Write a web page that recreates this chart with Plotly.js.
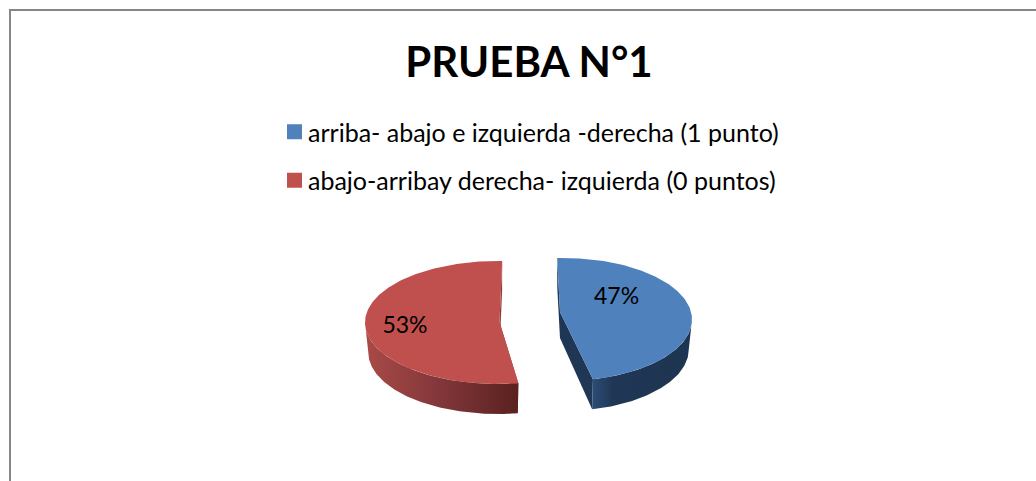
<!DOCTYPE html>
<html><head><meta charset="utf-8">
<script src="https://cdn.plot.ly/plotly-3.0.1.min.js"></script>
<style>html,body{margin:0;padding:0;background:#fff}#chart{width:1036px;height:481px}</style>
</head><body><div id="chart"></div>
<script>
const categories = ['arriba- abajo e izquierda -derecha (1 punto)', 'abajo-arribay derecha- izquierda (0 puntos)'];
const values = [47, 53];
const topColors = ['#4f81bd', '#c0504d'];
const wallScales = [
  [[0, '#2c4d75'], [0.22, '#1f3654'], [1, '#1e3552']],
  [[0, '#a94a47'], [0.5, '#81363a'], [1, '#5a211f']]
];
const cutColors = ['#1f3654', '#8c3b39'];
const chartTitle = 'PRUEBA N°1';

// Drawing geometry of the flattened, exploded pie (in axis units = px)
const centers = [[563, 319.5], [497.8, 322.5]];
const apexes = [[560, 312], [499.5, 322]];
const apexDepth = [26, 30];
const startAngles = [-2.6, 171.1];
const labelAt = [[616.6, 298], [405, 327.5]];
const RX = [129, 132.8], RY = 61.5, DEPTH = 30, WALL_SCALE = 0.975;

const total = values.reduce((a, b) => a + b, 0);
const sweep = values.map(v => v / total * 360);
const rad = d => d * Math.PI / 180;
function arc(i, a0, a1, dy, s) {
  const xs = [], ys = [], n = Math.max(2, Math.ceil(Math.abs(a1 - a0)));
  for (let k = 0; k <= n; k++) {
    const t = rad(a0 + (a1 - a0) * k / n);
    xs.push(centers[i][0] + RX[i] * s * Math.sin(t));
    ys.push(centers[i][1] + dy - RY * Math.cos(t));
  }
  return [xs, ys];
}
const traces = [];
const poly = (xs, ys, color, scale) => {
  const t = {x: xs.concat(xs[0]), y: ys.concat(ys[0]), mode: 'lines', fill: 'toself',
    line: {width: 0, color: color}, fillcolor: color, showlegend: false, hoverinfo: 'skip', type: 'scatter'};
  if (scale) t.fillgradient = {type: 'horizontal', colorscale: scale};
  traces.push(t);
};
values.forEach((v, i) => {
  const a0 = startAngles[i], a1 = a0 + sweep[i], c = apexes[i], d = apexDepth[i];
  const pt = (a, dy, s) => { const r = arc(i, a, a, dy, s); return [r[0][0], r[1][0]]; };
  const face = a => {
    const p = pt(a, 0, 1), q = pt(a, DEPTH, WALL_SCALE);
    poly([c[0], p[0], q[0], c[0]], [c[1], p[1], q[1], c[1] + d], cutColors[i]);
  };
  face(a0); face(a1);
  const w0 = Math.max(a0, 90), w1 = Math.min(a1, 270);
  const up = arc(i, w0, w1, 0, 1), lo = arc(i, w1, w0, DEPTH, WALL_SCALE);
  poly(up[0].concat(lo[0]), up[1].concat(lo[1]), cutColors[i], wallScales[i]);
  const tp = arc(i, a0, a1, 0, 1);
  poly([c[0]].concat(tp[0]), [c[1]].concat(tp[1]), topColors[i]);
});
traces.push({type: 'scatter', mode: 'text', x: labelAt.map(p => p[0]), y: labelAt.map(p => p[1]),
  text: values.map(v => v + '%'), textposition: 'middle center',
  textfont: {family: 'Lato, sans-serif', size: 23, color: '#000'}, showlegend: false, hoverinfo: 'skip'});
categories.forEach((name, i) => traces.push({type: 'scatter', mode: 'markers', x: [null], y: [null], name,
  legendgroup: 'g' + i, marker: {symbol: 'square', size: 15, color: topColors[i]}}));

const layout = {
  width: 1036, height: 481, margin: {l: 0, r: 0, t: 0, b: 0},
  paper_bgcolor: '#fff', plot_bgcolor: '#fff',
  xaxis: {range: [0, 1036], visible: false, fixedrange: true},
  yaxis: {range: [481, 0], visible: false, fixedrange: true},
  title: {text: '<b>' + chartTitle + '</b>', x: 529 / 1036, xanchor: 'center', y: 1 - 62 / 481, yanchor: 'middle',
    font: {family: 'Lato, sans-serif', size: 42, color: '#000'}},
  legend: {x: 268 / 1036, xanchor: 'left', y: 1 - 109 / 481, yanchor: 'top', tracegroupgap: 13,
    bgcolor: 'rgba(0,0,0,0)', font: {family: 'Lato, sans-serif', size: 25, color: '#000'}},
  shapes: [{type: 'path', xref: 'paper', yref: 'paper',
    path: 'M' + (10 / 1036) + ',0 L' + (10 / 1036) + ',' + (1 - 10 / 481) + ' L1,' + (1 - 10 / 481),
    line: {color: '#868686', width: 2}}],
  showlegend: true
};
Plotly.newPlot('chart', traces, layout, {staticPlot: true, displayModeBar: false}).then(gd => {
  gd.querySelectorAll('.legend .legendsymbols').forEach(n => n.setAttribute('transform', 'translate(6.5,0)'));
});
</script></body></html>
